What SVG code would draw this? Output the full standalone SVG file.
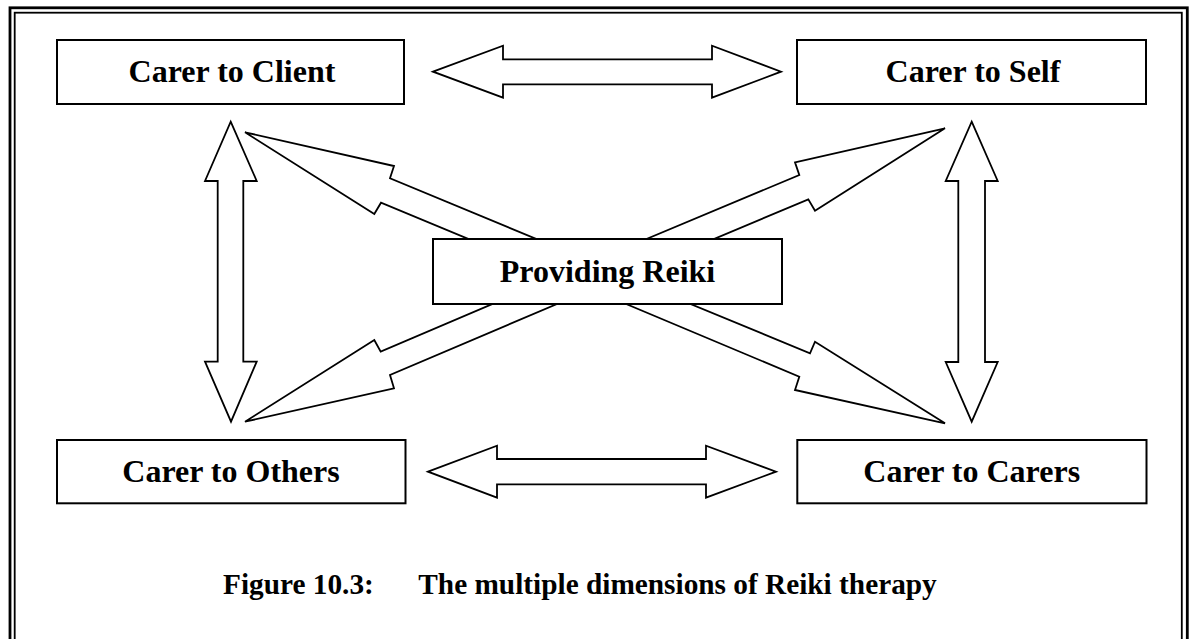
<svg xmlns="http://www.w3.org/2000/svg" width="1194" height="639" viewBox="0 0 1194 639">
  <style>
    .frame { fill: none; stroke: #000; }
    .box { fill: #fff; stroke: #000; stroke-width: 2; }
    .arrow { fill: #fff; stroke: #000; stroke-width: 1.8; stroke-linejoin: miter; }
    .label { font-family: "Liberation Serif", "Times New Roman", serif; font-weight: bold; font-size: 32px; fill: #000; text-anchor: middle; }
    .caption { font-family: "Liberation Serif", "Times New Roman", serif; font-weight: bold; font-size: 29.3px; fill: #000; }
  </style>
  <rect width="1194" height="639" fill="#fff"/>
  <g id="frame">
    <rect class="frame" x="10" y="7.8" width="1177.3" height="720" stroke-width="2.8"/>
    <rect class="frame" x="14.7" y="12.7" width="1167.1" height="710" stroke-width="1.8"/>
  </g>
  <g id="connectors">
    <polygon class="arrow" points="433,71.7 503,45.7 503,59.3 712,59.3 712,45.7 781,71.7 712,97.7 712,84.3 503,84.3 503,97.7"/>
    <polygon class="arrow" points="428,471.7 497,445.7 497,459 706,459 706,445.7 776,471.7 706,497.7 706,484.3 497,484.3 497,497.7"/>
    <polygon class="arrow" points="230.7,121.7 256.7,181 243.3,181 243.3,361.7 256.7,361.7 231,421.7 205,361.7 217.7,361.7 217.7,181 205,181"/>
    <polygon class="arrow" points="971.7,121.7 997.7,181 985,181 985,362 997.7,362 971.7,421.7 945.7,362 958.3,362 958.3,181 945.7,181"/>
    <polygon class="arrow" points="245,132.3 394,166 390,178.3 592,262 572,282 381,202.7 374.3,214"/>
    <polygon class="arrow" points="945,128.3 795,162.3 799.3,175 625,248 645,268 808.3,199.3 815,210.7"/>
    <polygon class="arrow" points="245,421.7 374.3,340 380.7,351.7 570,271 590,290 390,375 394,388.3"/>
    <polygon class="arrow" points="945,423.3 815,341.7 810,353.3 620,275 600,293 799.3,376.7 795,390"/>
  </g>
  <g id="node-client">
    <rect class="box" x="57" y="40" width="347" height="64"/>
    <text class="label" x="232" y="82">Carer to Client</text>
  </g>
  <g id="node-self">
    <rect class="box" x="797" y="40" width="349" height="64"/>
    <text class="label" x="973" y="82">Carer to Self</text>
  </g>
  <g id="node-reiki">
    <rect class="box" x="433" y="239" width="349" height="65"/>
    <text class="label" x="607.5" y="282">Providing Reiki</text>
  </g>
  <g id="node-others">
    <rect class="box" x="57" y="440" width="348.5" height="63.3"/>
    <text class="label" x="231" y="482">Carer to Others</text>
  </g>
  <g id="node-carers">
    <rect class="box" x="797.3" y="440" width="349.2" height="63.3"/>
    <text class="label" x="971.7" y="482">Carer to Carers</text>
  </g>
  <g id="caption">
    <text class="caption" x="223" y="594">Figure 10.3:</text>
    <text class="caption" x="418.3" y="594">The multiple dimensions of Reiki therapy</text>
  </g>
</svg>
